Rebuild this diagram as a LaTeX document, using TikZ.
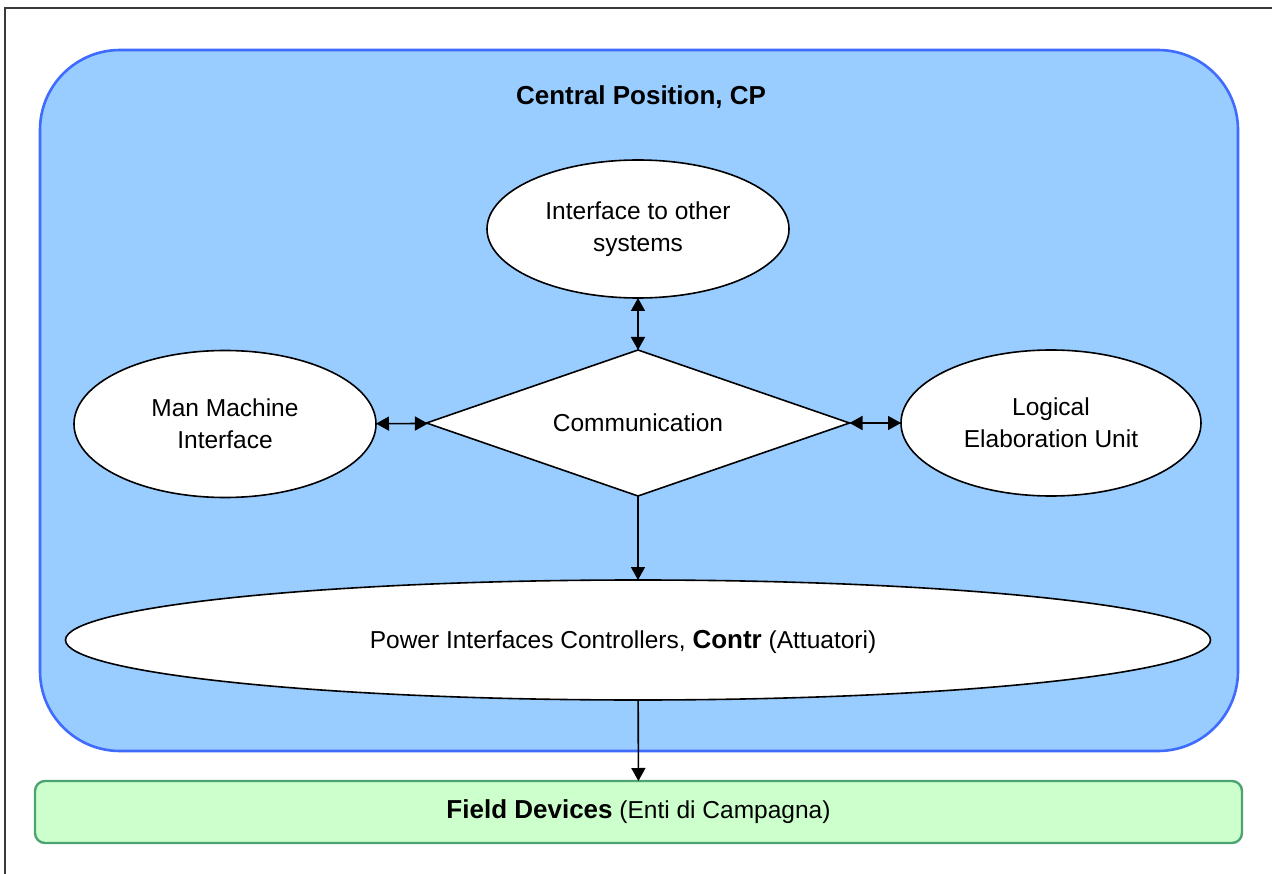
\documentclass[tikz,border=0pt]{standalone}
\usepackage{fontspec}
\setmainfont{Liberation Sans}
\usetikzlibrary{shapes.geometric,arrows.meta}

\definecolor{cpfill}{HTML}{99CCFF}
\definecolor{cpline}{HTML}{3F6BFF}
\definecolor{fdfill}{HTML}{CCFFCC}
\definecolor{fdline}{HTML}{4FA372}
\definecolor{frameline}{HTML}{3A3A3A}

\newcommand{\heavy}[1]{{\fontsize{26}{32}\selectfont\bfseries #1}}

\tikzset{
  x=1pt, y=-1pt,
  every node/.style={font=\fontsize{24.5}{32}\selectfont, inner sep=0pt, outer sep=0pt},
  unit/.style={ellipse, draw=black, line width=1.6pt, fill=white, align=center},
  hub/.style={diamond, aspect=2.9, draw=black, line width=1.6pt, fill=white, align=center},
  link/.style={line width=1.6pt, draw=black},
  tip/.style={-{Triangle[length=13pt,width=14pt]}},
  twotip/.style={{Triangle[length=13pt,width=14pt]}-{Triangle[length=13pt,width=14pt]}},
}

\begin{document}
\begin{tikzpicture}
  \useasboundingbox (0,0) rectangle (1272,874);
  \fill[white] (0,0) rectangle (1272,874);

  % page frame (top and left edges)
  \draw[frameline, line width=2pt] (1272,8) -- (5,8) -- (5,874);

  % central position container
  \draw[fill=cpfill, draw=cpline, line width=2.6pt, rounded corners=80pt]
    (40,50) rectangle (1238,751);
  \node (title) at (641,97) {\heavy{Central Position, CP}};

  % functional blocks
  \node[unit, minimum width=302pt, minimum height=138pt] (ifc) at (638,229)
    {Interface to other\\systems};
  \node[hub, minimum width=423pt, minimum height=146pt] (comm) at (638,423)
    {Communication};
  \node[unit, minimum width=302pt, minimum height=147pt] (mmi) at (225,424)
    {Man Machine\\Interface};
  \node[unit, minimum width=300pt, minimum height=146pt] (leu) at (1051,423)
    {Logical\\Elaboration Unit};
  \node[unit, minimum width=1145pt, minimum height=120pt,
        label={[xshift=-15pt,yshift=-2pt]center:Power Interfaces Controllers, \heavy{Contr} (Attuatori)}]
    (contr) at (638,640) {};

  % field devices
  \node[draw=fdline, fill=fdfill, line width=2.4pt, rounded corners=10pt,
        minimum width=1207pt, minimum height=62pt] (field) at (638.5,812)
    {\heavy{Field Devices} (Enti di Campagna)};

  % connectors
  \draw[link, twotip] (ifc) -- (comm);
  \draw[link, twotip] (mmi) -- (comm);
  \draw[link, twotip] (leu) -- (comm);
  \draw[link, tip] (comm) -- (contr);
  \draw[link, tip] (contr) -- (field);
\end{tikzpicture}
\end{document}
